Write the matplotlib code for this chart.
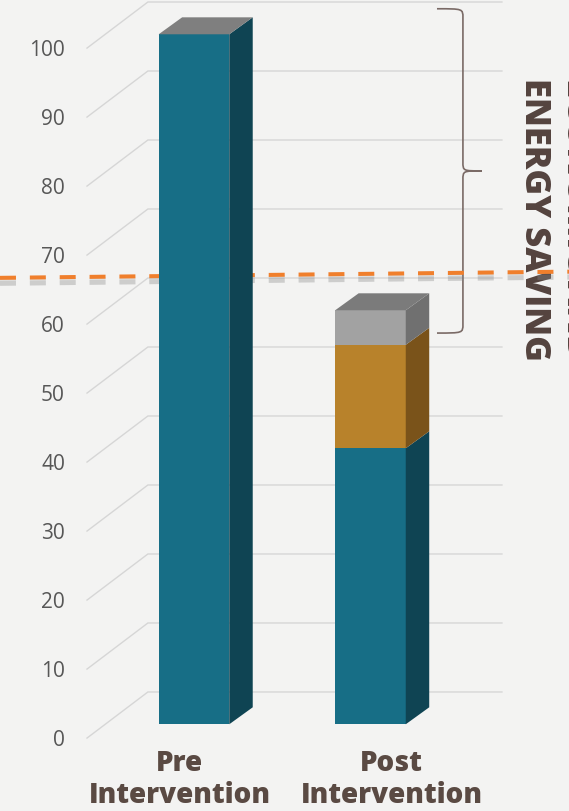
"""Pre vs post intervention energy use, drawn as a 3D-style stacked bar chart."""

import matplotlib

matplotlib.use("Agg")
import matplotlib.pyplot as plt
from matplotlib.patches import PathPatch, Polygon
from matplotlib.path import Path

plt.rcParams["font.family"] = ["Open Sans", "DejaVu Sans"]
plt.rcParams["lines.scale_dashes"] = False

# data
categories = ["Pre\nIntervention", "Post\nIntervention"]
base_values = [100, 40]
middle_values = [0, 15]
top_values = [0, 5]
y_ticks = [0, 10, 20, 30, 40, 50, 60, 70, 80, 90, 100]
saving_line = [64.7, 65.6]          # dashed target level, left/right end
brace_span = [103.7, 56.7]          # top / bottom of the curly brace
side_text = ["ECONOMIC AND", "ENERGY SAVING"]

# colours: (front, side)
segment_colors = [
    ("#176e86", "#0f4453"),
    ("#b8822b", "#7a531a"),
    ("#a2a2a2", "#707070"),
]
top_face = ["#7f7f7f", "#7b7b7b"]
bg = "#f3f3f2"
text_brown = "#5a4a43"

# geometry (x in category units, y in value units)
bar_half = 0.2
depth_x, depth_y = 0.133, 2.46
grid_x0, grid_x1, grid_x2 = -0.606, -0.261, 1.745
grid_lo, grid_hi = -2.0, 4.68

fig = plt.figure(figsize=(5.69, 8.11), dpi=100, facecolor=bg)
ax = fig.add_axes([0, 0, 1, 1])
ax.set_facecolor(bg)
ax.set_xlim(-1.099, 2.125)
ax.set_ylim(-12.57, 104.97)
ax.axis("off")

# perspective gridlines + tick labels
for v in y_ticks:
    ax.plot([grid_x0, grid_x1, grid_x2], [v + grid_lo, v + grid_hi, v + grid_hi],
            color="#d6d6d6", lw=1.0, zorder=1, solid_joinstyle="miter")
    ax.text(-0.731, v - 2.28, str(v), ha="right", va="center",
            fontsize=15, color="#575757", zorder=2)

# bars
for i, segs in enumerate(zip(base_values, middle_values, top_values)):
    xl, xr = i - bar_half, i + bar_half
    y0 = 0
    for seg, (front, side) in zip(segs, segment_colors):
        if seg <= 0:
            continue
        y1 = y0 + seg
        ax.add_patch(Polygon([(xl, y0), (xr, y0), (xr, y1), (xl, y1)],
                             closed=True, fc=front, ec="none", zorder=5))
        ax.add_patch(Polygon([(xr, y0), (xr + depth_x, y0 + depth_y),
                              (xr + depth_x, y1 + depth_y), (xr, y1)],
                             closed=True, fc=side, ec="none", zorder=5))
        y0 = y1
    ax.add_patch(Polygon([(xl, y0), (xr, y0), (xr + depth_x, y0 + depth_y),
                          (xl + depth_x, y0 + depth_y)],
                         closed=True, fc=top_face[i], ec="none", zorder=5))

# category labels
label_x = [-0.08, 1.12]
for x, lab in zip(label_x, categories):
    ax.text(x, -3.6, lab, ha="center", va="top", fontsize=20, fontweight="heavy",
            color=text_brown, linespacing=1.12, multialignment="center", zorder=6)

# dashed saving level with a soft shadow
for off, a, w in [(0.6, 0.18, 5.5), (0.8, 0.22, 3.5)]:
    ax.plot([-1.099, 2.125], [saving_line[0] - off, saving_line[1] - off],
            color="#8a8a8a", lw=w, alpha=a, dashes=(11.5, 10), zorder=3)
ax.plot([-1.099, 2.125], saving_line, color="#f07f2c", lw=2.9,
        dashes=(11.5, 10), zorder=3)

# curly brace
top, bot = brace_span
mid = (top + bot) / 2
xh, xl, xt = 1.377, 1.524, 1.632
r = 1.3
verts = [
    (xh, top), (xl, top), (xl, top), (xl, top - r),
    (xl, mid + r),
    (xl, mid), (xl, mid), (xt, mid),
    (xl, mid), (xl, mid), (xl, mid - r),
    (xl, bot + r),
    (xl, bot), (xl, bot), (xh, bot),
]
codes = [Path.MOVETO, Path.CURVE4, Path.CURVE4, Path.CURVE4, Path.LINETO,
         Path.CURVE4, Path.CURVE4, Path.CURVE4,
         Path.CURVE4, Path.CURVE4, Path.CURVE4, Path.LINETO,
         Path.CURVE4, Path.CURVE4, Path.CURVE4]
ax.add_patch(PathPatch(Path(verts, codes), fc="none", ec="#7a6a66", lw=1.2, zorder=2))

# rotated side title
for x, line in zip([2.167, 1.929], side_text):
    ax.text(x, 73.2, line, rotation=-90, ha="center", va="center", fontsize=25,
            fontweight="heavy", color="#54433e", zorder=2)

fig.savefig("out.png", dpi=100, facecolor=bg)
